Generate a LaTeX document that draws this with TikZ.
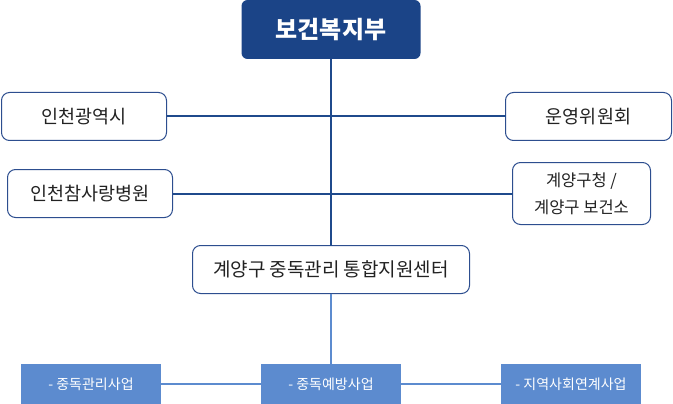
\documentclass[tikz,border=0pt]{standalone}
\usepackage{fontspec}
\setmainfont{Noto Sans CJK KR}
\definecolor{navy}{HTML}{1B4487}
\definecolor{lineblue}{HTML}{1F4A8C}
\definecolor{boxedge}{HTML}{2D4E8F}
\definecolor{lightblue}{HTML}{5C8BCF}
\definecolor{txt}{HTML}{222222}
\begin{document}
\begin{tikzpicture}[x=1pt,y=-1pt,
  topbox/.style={fill=navy, rounded corners=6pt, text=white, inner sep=0pt, outer sep=0pt,
    minimum width=179pt, minimum height=59pt, font=\fontsize{24}{28}\selectfont\bfseries},
  orgbox/.style={draw=boxedge, line width=1pt, rounded corners=8pt, fill=white, text=txt,
    inner sep=0pt, outer sep=0pt, minimum height=48pt, align=center,
    font=\fontsize{18.5}{22}\selectfont},
  smallbox/.style={orgbox, font=\fontsize{16.5}{27}\selectfont},
  taskbox/.style={fill=lightblue, text=white, inner sep=0pt, outer sep=0pt,
    minimum width=140pt, minimum height=40pt, font=\fontsize{14}{17}\selectfont},
  mainline/.style={draw=lineblue, line width=2pt},
  subline/.style={draw=lightblue, line width=2pt},
  taskline/.style={draw=lightblue, line width=1.5pt}]
\useasboundingbox (0,0) rectangle (673,404);
\node[topbox] (mohw) at (331,29.5) {보건복지부};
\node[orgbox, minimum width=165pt] (incheon) at (84,116.5) {인천광역시};
\node[orgbox, minimum width=166pt] (committee) at (588.5,116.5) {운영위원회};
\node[orgbox, minimum width=165pt] (hospital) at (90,193.5) {인천참사랑병원};
\node[smallbox, minimum width=138pt, minimum height=62pt] (gu) at (581.5,193.5) {계양구청 /\\계양구 보건소};
\node[orgbox, minimum width=277pt, font=\fontsize{19}{22}\selectfont] (center) at (331,269.5) {계양구 중독관리 통합지원센터};
\node[taskbox] (t1) at (91,384) {- 중독관리사업};
\node[taskbox] (t2) at (331,384) {- 중독예방사업};
\node[taskbox] (t3) at (571,384) {- 지역사회연계사업};
\draw[mainline] (mohw.south) -- (center.north);
\draw[mainline] (incheon.east) -- (committee.west);
\draw[mainline] (hospital.east) -- (gu.west);
\draw[subline] (center.south) -- (t2.north);
\draw[taskline] (t1.east) -- (t2.west);
\draw[taskline] (t2.east) -- (t3.west);
\end{tikzpicture}
\end{document}
